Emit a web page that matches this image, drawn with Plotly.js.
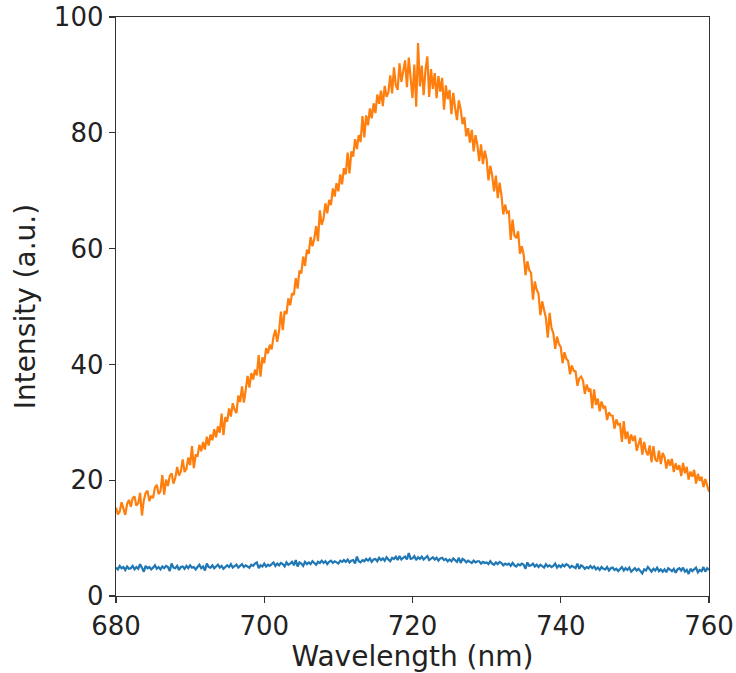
<!DOCTYPE html>
<html>
<head>
<meta charset="utf-8">
<script src="https://cdn.plot.ly/plotly-3.0.1.min.js"></script>
<style>html,body{margin:0;padding:0;background:#fff;}#chart{width:736px;height:673px;}</style>
</head>
<body>
<div id="chart"></div>
<script>
// Sampling grid of the spectra (nm)
const waveStart = 680;
const waveStep = 0.25;

// Orange spectrum (a.u.), one value every 0.25 nm from 680 to 760
const orangeSeries = [
15.3,14.1,14.6,16.2, 15.1,14.0,15.9,16.6, 15.4,16.9,17.2,15.6, 16.0,17.8,13.9,16.5,
17.8,18.2,16.4,17.3, 16.9,18.7,19.2,17.6, 18.1,20.9,17.5,20.1, 19.0,20.7,21.2,19.4,
20.4,22.3,20.8,21.5, 23.6,21.4,22.0,23.9, 22.6,25.9,22.1,24.3, 24.2,26.1,25.0,26.6,
25.3,27.5,26.0,27.9, 26.9,28.8,27.4,29.3, 28.2,31.5,27.8,30.9, 30.1,32.4,31.0,33.3,
32.2,31.6,34.6,33.5, 36.2,33.4,35.6,38.0, 36.0,38.5,37.4,39.1, 38.1,41.6,37.9,41.2,
40.2,42.8,41.9,43.4, 42.6,44.8,46.0,43.9, 45.8,49.1,45.9,49.2, 48.7,51.4,50.2,52.3,
52.0,54.9,53.1,56.2, 55.7,58.6,57.0,59.8, 59.1,62.0,60.4,61.7, 63.9,61.3,66.6,64.1,
65.2,67.8,66.1,68.4, 67.5,70.4,69.0,71.3, 69.9,72.8,71.1,73.9, 72.8,76.6,73.0,76.8,
75.9,78.9,77.2,79.6, 78.4,82.9,79.2,83.0, 81.3,84.2,82.5,85.1, 83.4,86.6,85.0,87.3,
84.6,88.1,86.2,87.0, 89.9,86.8,91.3,88.2, 87.4,92.0,88.8,90.6, 92.5,87.9,93.0,89.4,
86.0,91.8,84.5,95.5, 88.0,91.6,86.5,90.8, 93.2,86.2,91.0,87.6, 90.3,86.0,89.8,87.1,
89.5,84.0,88.2,85.8, 87.4,83.2,86.9,84.3, 82.2,85.6,84.1,81.5, 82.7,79.4,80.8,78.3,
80.5,76.8,79.6,77.9, 75.1,78.0,74.6,76.9, 75.4,71.8,74.3,72.6, 69.9,72.6,68.7,71.4,
69.2,65.9,67.6,66.2, 66.4,61.5,65.0,62.3, 61.8,63.0,59.1,60.4, 58.9,55.4,57.8,56.3,
55.8,51.2,54.3,52.9, 52.2,48.5,50.9,49.4, 48.0,44.6,48.9,46.3, 45.4,42.7,44.8,43.5,
43.0,40.2,42.1,41.0, 40.6,38.3,39.8,38.9, 38.8,36.3,37.6,37.9, 37.2,34.9,36.5,35.5,
35.8,32.4,35.7,33.0, 34.1,31.9,33.6,32.5, 32.8,30.4,31.7,31.2, 31.1,28.9,30.5,29.6,
29.7,26.6,30.2,27.1, 28.4,26.3,27.9,26.8, 27.7,25.1,26.4,27.3, 24.4,26.6,25.0,24.3,
26.0,23.1,25.9,23.6, 23.2,25.1,22.8,24.7, 24.0,22.0,23.6,22.5, 23.7,21.4,22.9,21.8,
22.6,20.7,23.0,21.2, 22.3,20.1,21.5,20.6, 21.8,19.4,21.1,19.9, 20.6,18.8,20.2,19.1,
18.0
];

// Blue spectrum (a.u.), same sampling
const blueSeries = [
4.9,4.6,5.2,4.8, 5.0,4.5,5.1,4.7, 4.8,5.2,4.6,5.0, 4.7,5.5,4.9,4.2,
5.2,4.8,5.0,4.6, 4.9,5.3,4.7,5.0, 4.6,5.1,4.8,5.2, 5.0,4.3,5.6,4.9,
4.8,5.2,4.5,5.0, 5.1,4.7,5.2,4.8, 5.3,4.9,5.0,4.6, 5.0,5.4,4.8,5.1,
4.4,5.6,5.0,4.9, 5.3,4.8,5.1,5.4, 4.9,5.2,4.7,5.0, 5.3,5.0,5.5,4.9,
5.1,5.4,4.9,5.2, 5.5,5.0,5.3,5.1, 4.9,5.4,5.2,5.6, 5.8,4.8,5.3,5.1,
5.6,5.1,5.4,5.2, 5.5,5.8,5.2,5.6, 5.3,5.7,5.5,5.1, 5.8,5.4,5.6,5.9,
5.3,6.2,5.1,5.8, 5.6,5.2,5.9,5.5, 5.8,5.5,6.0,5.6, 5.4,5.9,5.7,6.1,
5.7,6.0,5.5,5.9, 6.1,5.7,6.0,5.8, 5.6,6.1,5.9,6.2, 5.9,6.3,5.8,6.1,
6.2,5.6,6.8,6.0, 5.8,6.2,6.0,6.4, 6.1,6.5,5.9,6.3, 6.4,6.0,6.6,6.2,
6.5,6.1,6.7,6.3, 6.0,6.6,6.4,6.8, 6.2,6.9,6.3,6.6, 6.8,6.3,7.4,6.4,
6.5,6.9,6.2,6.7, 6.4,6.8,6.3,6.6, 6.9,6.2,6.5,6.7, 6.3,6.6,6.1,6.5,
6.6,6.2,6.4,6.0, 6.3,6.0,6.5,6.1, 5.9,6.6,5.7,6.4, 6.2,5.8,6.1,5.9,
5.7,6.1,5.8,6.0, 6.0,5.6,5.9,5.7, 5.8,5.5,6.0,5.6, 5.4,5.8,5.5,5.9,
5.7,5.3,5.6,5.4, 5.6,5.2,5.7,5.3, 5.1,5.5,5.3,5.6, 5.4,4.7,5.8,5.2,
5.3,5.6,5.1,5.4, 5.0,5.4,5.2,4.9, 5.5,5.1,5.3,5.0, 5.2,5.6,4.9,5.3,
5.0,5.4,5.1,5.5, 5.3,4.9,5.2,5.0, 4.8,5.6,4.7,5.3, 5.1,4.7,5.0,4.8,
5.2,4.8,5.1,4.6, 4.9,4.5,5.0,4.7, 4.6,5.0,4.4,4.8, 4.9,4.5,4.7,4.3,
4.7,5.0,4.4,4.8, 4.5,4.9,4.2,4.6, 4.8,4.4,4.7,4.3, 3.9,4.6,4.4,5.0,
4.5,4.2,4.7,4.4, 4.9,4.3,4.6,4.2, 4.6,4.1,4.8,4.5, 4.3,4.7,4.0,4.6,
4.8,4.4,4.9,4.2, 4.5,3.8,4.7,4.3, 4.6,4.9,4.1,4.5, 4.3,5.0,4.2,4.8,
4.5
];

const xTicks = [680, 700, 720, 740, 760];
const yTicks = [0, 20, 40, 60, 80, 100];
const xLabel = 'Wavelength (nm)';
const yLabel = 'Intensity (a.u.)';

const tickFont = {family: 'DejaVu Sans, sans-serif', size: 26, color: '#222'};
const titleFont = {family: 'DejaVu Sans, sans-serif', size: 28, color: '#222'};

const traces = [
  {y: blueSeries, x0: waveStart, dx: waveStep, type: 'scatter', mode: 'lines',
   line: {color: '#1f77b4', width: 2.2}, hoverinfo: 'skip'},
  {y: orangeSeries, x0: waveStart, dx: waveStep, type: 'scatter', mode: 'lines',
   line: {color: '#ff7f0e', width: 2.2}, hoverinfo: 'skip'}
];

const axisCommon = {
  showgrid: false, zeroline: false, showline: true, mirror: true,
  linecolor: '#333', linewidth: 1.3, ticks: 'outside', ticklen: 6,
  tickwidth: 1.3, tickcolor: '#333', tickfont: tickFont
};

const layout = {
  width: 736, height: 673,
  margin: {l: 116, r: 27, t: 17, b: 77},
  paper_bgcolor: '#fff', plot_bgcolor: '#fff',
  showlegend: false,
  font: tickFont,
  xaxis: Object.assign({}, axisCommon, {
    range: [680, 760], tickvals: xTicks, ticktext: xTicks.map(String),
    title: {text: xLabel, font: titleFont, standoff: 4}
  }),
  yaxis: Object.assign({}, axisCommon, {
    range: [0, 100], tickvals: yTicks, ticktext: yTicks.map(String),
    title: {text: yLabel, font: titleFont, standoff: 10}
  })
};

Plotly.newPlot('chart', traces, layout, {staticPlot: true, displayModeBar: false});
</script>
</body>
</html>
